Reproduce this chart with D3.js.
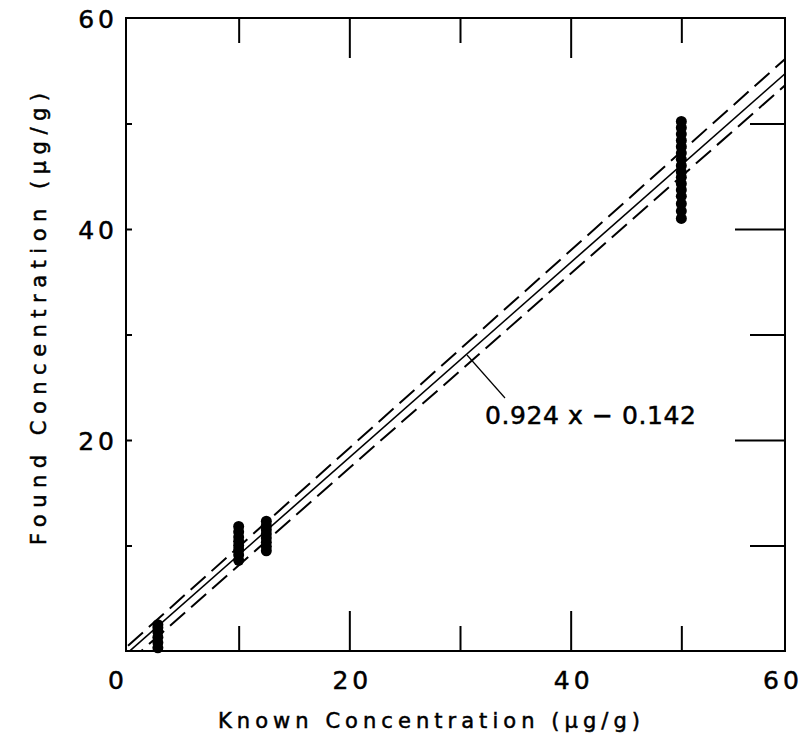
<!DOCTYPE html>
<html>
<head>
<meta charset="utf-8">
<script src="https://cdn.jsdelivr.net/npm/d3@7"></script>
<style>
  body { margin: 0; background: white; }
  text { font-family: "DejaVu Sans", sans-serif; fill: black; stroke: black; stroke-width: 0.5px; }
</style>
</head>
<body>
<main></main>
<script>
/*** Data ***/

// replicate measurements, one x per cluster
const knownX = [2.7, 10, 12.5, 50]
const foundY = [
    [0.3, 0.8, 1.3, 1.8, 2.2, 2.5],
    [8.6, 9.1, 9.6, 10.0, 10.4, 10.8, 11.3, 11.8],
    [9.5, 9.9, 10.3, 10.7, 11.1, 11.5, 11.9, 12.3],
    [41.0, 41.7, 42.4, 43.1, 43.7, 44.3, 44.9, 45.4, 46.0, 46.6, 47.2, 47.8, 48.4, 49.0, 49.6, 50.2]
]

// fitted line and its two dashed bands, as end points
const lineX = [0, 60]
const fitY = [-0.142, 55.3]
const upperY = [0.5, 56.7]
const lowerY = [-1.1, 54.2]

const tickValues = [10, 20, 30, 40, 50]
const labelValues = [20, 40, 60]
const fitLabel = "0.924 x \u2212 0.142"

/*** Layout ***/

const svgWidth = 805
const svgHeight = 747

// frame as drawn; the hand-drawn x ticks run a little wider than the frame
const plotLeft = 126, plotRight = 785, plotTop = 18, plotBottom = 651

let svg = d3.select("main")
    .append("svg")
    .attr("width", svgWidth)
    .attr("height", svgHeight)

let xScale = d3.scaleLinear().domain([0, 60]).range([128, 792])
let yScale = d3.scaleLinear().domain([0, 60]).range([plotBottom, plotTop])

const tickLen = d => d % 20 === 0 ? 40 : 25

svg.append("clipPath")
    .attr("id", "plot")
    .append("rect")
    .attr("x", plotLeft).attr("y", plotTop)
    .attr("width", plotRight - plotLeft).attr("height", plotBottom - plotTop)

/* frame and inner ticks */

function styleAxis(g) {
    g.select(".domain").remove()
    g.selectAll(".tick line").attr("stroke", "black").attr("stroke-width", 2)
}

svg.append("g")
    .attr("transform", `translate(0, ${plotBottom})`)
    .call(d3.axisBottom(xScale).tickValues(tickValues).tickFormat(""))
    .call(styleAxis)
    .selectAll(".tick line").attr("y2", d => -tickLen(d))

svg.append("g")
    .attr("transform", `translate(0, ${plotTop})`)
    .call(d3.axisTop(xScale).tickValues(tickValues).tickFormat(""))
    .call(styleAxis)
    .selectAll(".tick line").attr("y2", d => tickLen(d))

svg.append("g")
    .attr("transform", `translate(${plotRight}, 0)`)
    .call(d3.axisRight(yScale).tickValues(tickValues).tickFormat(""))
    .call(styleAxis)
    .selectAll(".tick line").attr("x2", d => -(tickLen(d) + 10))

svg.append("g")
    .attr("transform", `translate(${plotLeft}, 0)`)
    .call(d3.axisLeft(yScale).tickValues(tickValues).tickFormat(""))
    .call(styleAxis)
    .selectAll(".tick line").attr("x2", 6)

svg.append("rect")
    .attr("x", plotLeft).attr("y", plotTop)
    .attr("width", plotRight - plotLeft).attr("height", plotBottom - plotTop)
    .attr("fill", "none")
    .attr("stroke", "black")
    .attr("stroke-width", 2)

/* tick labels */

svg.append("g").selectAll("text")
    .data(labelValues)
    .join("text")
    .attr("x", d => Math.min(xScale(d) + 3, plotRight - 2))
    .attr("y", 689)
    .attr("text-anchor", "middle")
    .style("font-size", "25px")
    .style("letter-spacing", "4px")
    .text(d => d)

svg.append("g").selectAll("text")
    .data(labelValues)
    .join("text")
    .attr("x", 118)
    .attr("y", d => yScale(d) + 10)
    .attr("text-anchor", "end")
    .style("font-size", "25px")
    .style("letter-spacing", "4px")
    .text(d => d)

svg.append("text")
    .attr("x", 116)
    .attr("y", 689)
    .attr("text-anchor", "middle")
    .style("font-size", "25px")
    .text("0")

/* axis titles */

svg.append("text")
    .attr("x", 218)
    .attr("y", 728)
    .attr("textLength", 422)
    .attr("lengthAdjust", "spacing")
    .style("font-size", "21px")
    .text("Known Concentration (\u03bcg/g)")

svg.append("text")
    .attr("transform", "translate(46, 545) rotate(-90)")
    .attr("textLength", 452)
    .attr("lengthAdjust", "spacing")
    .style("font-size", "21px")
    .text("Found Concentration (\u03bcg/g)")

/* fitted line and bands */

let lineGen = d3.line()
    .x(d => xScale(d[0]))
    .y(d => yScale(d[1]))

let lines = svg.append("g").attr("clip-path", "url(#plot)")

lines.append("path")
    .attr("d", lineGen(d3.zip(lineX, fitY)))
    .attr("fill", "none")
    .attr("stroke", "black")
    .attr("stroke-width", 1.6)

lines.selectAll(".band")
    .data([upperY, lowerY])
    .join("path")
    .attr("class", "band")
    .attr("d", d => lineGen(d3.zip(lineX, d)))
    .attr("fill", "none")
    .attr("stroke", "black")
    .attr("stroke-width", 2)
    .attr("stroke-dasharray", "20,8")

/* points */

let points = knownX.flatMap((x, i) => foundY[i].map(y => [x, y]))

svg.append("g").selectAll("circle")
    .data(points)
    .join("circle")
    .attr("cx", d => xScale(d[0]))
    .attr("cy", d => yScale(d[1]))
    .attr("r", 5.5)
    .attr("fill", "black")

/* annotation */

svg.append("line")
    .attr("x1", 467).attr("y1", 355)
    .attr("x2", 505).attr("y2", 398)
    .attr("stroke", "black")
    .attr("stroke-width", 1.2)

svg.append("text")
    .attr("x", 485)
    .attr("y", 424)
    .attr("textLength", 211)
    .attr("lengthAdjust", "spacing")
    .style("font-size", "25px")
    .text(fitLabel)
</script>
</body>
</html>
